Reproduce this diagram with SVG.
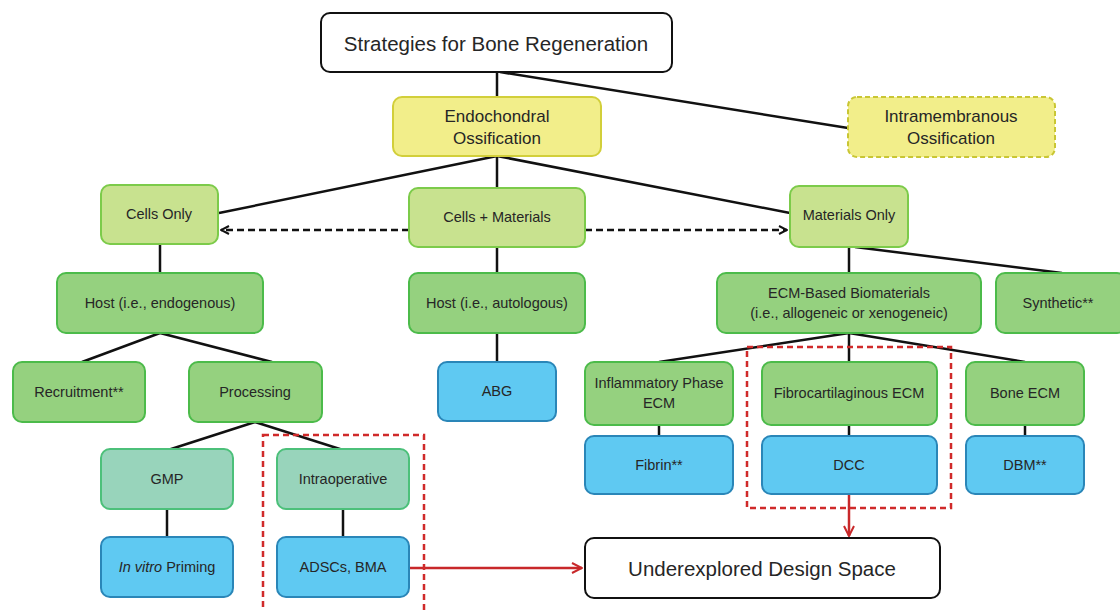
<svg xmlns="http://www.w3.org/2000/svg" width="1120" height="610" viewBox="0 0 1120 610">
<defs>
<marker id="ah" viewBox="0 0 10 10" refX="9" refY="5" markerWidth="10" markerHeight="10" markerUnits="userSpaceOnUse" orient="auto-start-reverse">
<path d="M1,1 L9,5 L1,9" fill="none" stroke="#111" stroke-width="2"/>
</marker>
<marker id="ahr" viewBox="0 0 12 12" refX="11" refY="6" markerWidth="12" markerHeight="12" markerUnits="userSpaceOnUse" orient="auto">
<path d="M1,1 L11,6 L1,11" fill="none" stroke="#c8282a" stroke-width="2"/>
</marker>
</defs>
<style>
text{font-family:"Liberation Sans",Arial,sans-serif;fill:#262626;text-anchor:middle;dominant-baseline:central}
.t{font-size:14.5px}
.big{font-size:20.5px}
.mid{font-size:17px}
.white{fill:#fff;stroke:#111;stroke-width:2}
.yel{fill:#f2ee8a;stroke:#d2cf3a;stroke-width:2}
.yeld{fill:#f2ee8a;stroke:#c9c634;stroke-width:2;stroke-dasharray:5 3}
.lg{fill:#c8e28f;stroke:#7ccb4a;stroke-width:2}
.mg{fill:#95d17f;stroke:#4cbb4a;stroke-width:2}
.tl{fill:#98d4bb;stroke:#4cc07a;stroke-width:2}
.bl{fill:#5fc9f2;stroke:#2a86b8;stroke-width:2}
.ln{stroke:#111;stroke-width:2.5;fill:none}
.dl{stroke:#111;stroke-width:2.5;fill:none;stroke-dasharray:7 4}
.rl{stroke:#c8282a;stroke-width:2.5;fill:none}
.rd{stroke:#d02a2a;stroke-width:2.5;fill:none;stroke-dasharray:6 4}
</style>
<rect width="1120" height="610" fill="#fff"/>
<g id="connectors">
<line class="ln" x1="497" y1="72" x2="497" y2="97"/>
<line class="ln" x1="500" y1="72" x2="848" y2="128"/>
<line class="ln" x1="497" y1="156" x2="219" y2="213"/>
<line class="ln" x1="497" y1="156" x2="497" y2="188"/>
<line class="ln" x1="497" y1="156" x2="790" y2="213"/>
<line class="dl" x1="409" y1="230" x2="221" y2="230" marker-end="url(#ah)"/>
<line class="dl" x1="585" y1="230" x2="787" y2="230" marker-end="url(#ah)"/>
<line class="ln" x1="160" y1="245" x2="160" y2="272"/>
<line class="ln" x1="160" y1="333" x2="82" y2="362"/>
<line class="ln" x1="160" y1="333" x2="272" y2="362"/>
<line class="ln" x1="497" y1="247" x2="497" y2="273"/>
<line class="ln" x1="497" y1="333" x2="497" y2="362"/>
<line class="ln" x1="849" y1="247" x2="849" y2="273"/>
<line class="ln" x1="855" y1="247" x2="1062" y2="273"/>
<line class="ln" x1="849" y1="333" x2="659" y2="362"/>
<line class="ln" x1="849" y1="333" x2="849" y2="362"/>
<line class="ln" x1="849" y1="333" x2="1025" y2="362"/>
<line class="ln" x1="659" y1="425" x2="659" y2="436"/>
<line class="ln" x1="849" y1="425" x2="849" y2="436"/>
<line class="ln" x1="1025" y1="425" x2="1025" y2="436"/>
<line class="ln" x1="255" y1="422" x2="168" y2="450"/>
<line class="ln" x1="255" y1="422" x2="343" y2="450"/>
<line class="ln" x1="167" y1="509" x2="167" y2="537"/>
<line class="ln" x1="343" y1="509" x2="343" y2="537"/>
<line class="rl" x1="410" y1="568" x2="582" y2="568" marker-end="url(#ahr)"/>
<line class="rl" x1="849" y1="495" x2="849" y2="536" marker-end="url(#ahr)"/>
</g>
<g id="highlight-left"><rect class="rd" x="263" y="435" width="161" height="180"/></g>
<g id="highlight-right"><rect class="rd" x="747" y="347" width="204" height="161"/></g>
<g id="n-root"><rect class="white" x="321" y="13" width="351" height="59" rx="9"/><text class="big" x="496" y="43">Strategies for Bone Regeneration</text></g>
<g id="n-endo"><rect class="yel" x="393" y="97" width="208" height="59" rx="9"/><text class="mid" x="497" y="116">Endochondral</text><text class="mid" x="497" y="138">Ossification</text></g>
<g id="n-intra"><rect class="yeld" x="848" y="97" width="207" height="60" rx="9"/><text class="mid" x="951" y="116">Intramembranous</text><text class="mid" x="951" y="138">Ossification</text></g>
<g id="n-cells"><rect class="lg" x="101" y="185" width="117" height="59" rx="9"/><text class="t" x="159" y="214">Cells Only</text></g>
<g id="n-cellsmat"><rect class="lg" x="409" y="188" width="176" height="59" rx="9"/><text class="t" x="497" y="217">Cells + Materials</text></g>
<g id="n-mat"><rect class="lg" x="790" y="186" width="118" height="61" rx="9"/><text class="t" x="849" y="215">Materials Only</text></g>
<g id="n-hostendo"><rect class="mg" x="57" y="273" width="206" height="60" rx="9"/><text class="t" x="160" y="303">Host (i.e., endogenous)</text></g>
<g id="n-hostauto"><rect class="mg" x="409" y="273" width="176" height="60" rx="9"/><text class="t" x="497" y="303">Host (i.e., autologous)</text></g>
<g id="n-ecm"><rect class="mg" x="717" y="273" width="264" height="60" rx="9"/><text class="t" x="849" y="293">ECM-Based Biomaterials</text><text class="t" x="849" y="313">(i.e., allogeneic or xenogeneic)</text></g>
<g id="n-syn"><rect class="mg" x="996" y="273" width="130" height="60" rx="9"/><text class="t" x="1058" y="303">Synthetic**</text></g>
<g id="n-recruit"><rect class="mg" x="13" y="362" width="132" height="60" rx="9"/><text class="t" x="79" y="392">Recruitment**</text></g>
<g id="n-proc"><rect class="mg" x="189" y="362" width="133" height="60" rx="9"/><text class="t" x="255" y="392">Processing</text></g>
<g id="n-abg"><rect class="bl" x="438" y="362" width="118" height="59" rx="9"/><text class="t" x="497" y="391">ABG</text></g>
<g id="n-inflam"><rect class="mg" x="585" y="362" width="148" height="63" rx="9"/><text class="t" x="659" y="383">Inflammatory Phase</text><text class="t" x="659" y="403">ECM</text></g>
<g id="n-fibro"><rect class="mg" x="762" y="362" width="175" height="63" rx="9"/><text class="t" x="849" y="393">Fibrocartilaginous ECM</text></g>
<g id="n-bone"><rect class="mg" x="966" y="362" width="118" height="63" rx="9"/><text class="t" x="1025" y="393">Bone ECM</text></g>
<g id="n-gmp"><rect class="tl" x="101" y="449" width="132" height="60" rx="9"/><text class="t" x="167" y="479">GMP</text></g>
<g id="n-intraop"><rect class="tl" x="277" y="449" width="132" height="60" rx="9"/><text class="t" x="343" y="479">Intraoperative</text></g>
<g id="n-fibrin"><rect class="bl" x="585" y="436" width="148" height="58" rx="9"/><text class="t" x="659" y="465">Fibrin**</text></g>
<g id="n-dcc"><rect class="bl" x="762" y="436" width="175" height="58" rx="9"/><text class="t" x="849" y="465">DCC</text></g>
<g id="n-dbm"><rect class="bl" x="966" y="436" width="118" height="58" rx="9"/><text class="t" x="1025" y="465">DBM**</text></g>
<g id="n-invitro"><rect class="bl" x="101" y="537" width="132" height="60" rx="9"/><text class="t" x="167" y="567"><tspan font-style="italic">In vitro</tspan> Priming</text></g>
<g id="n-adsc"><rect class="bl" x="277" y="537" width="132" height="60" rx="9"/><text class="t" x="343" y="567">ADSCs, BMA</text></g>
<g id="n-under"><rect class="white" x="585" y="538" width="355" height="60" rx="9"/><text class="big" x="762" y="568">Underexplored Design Space</text></g>
</svg>
